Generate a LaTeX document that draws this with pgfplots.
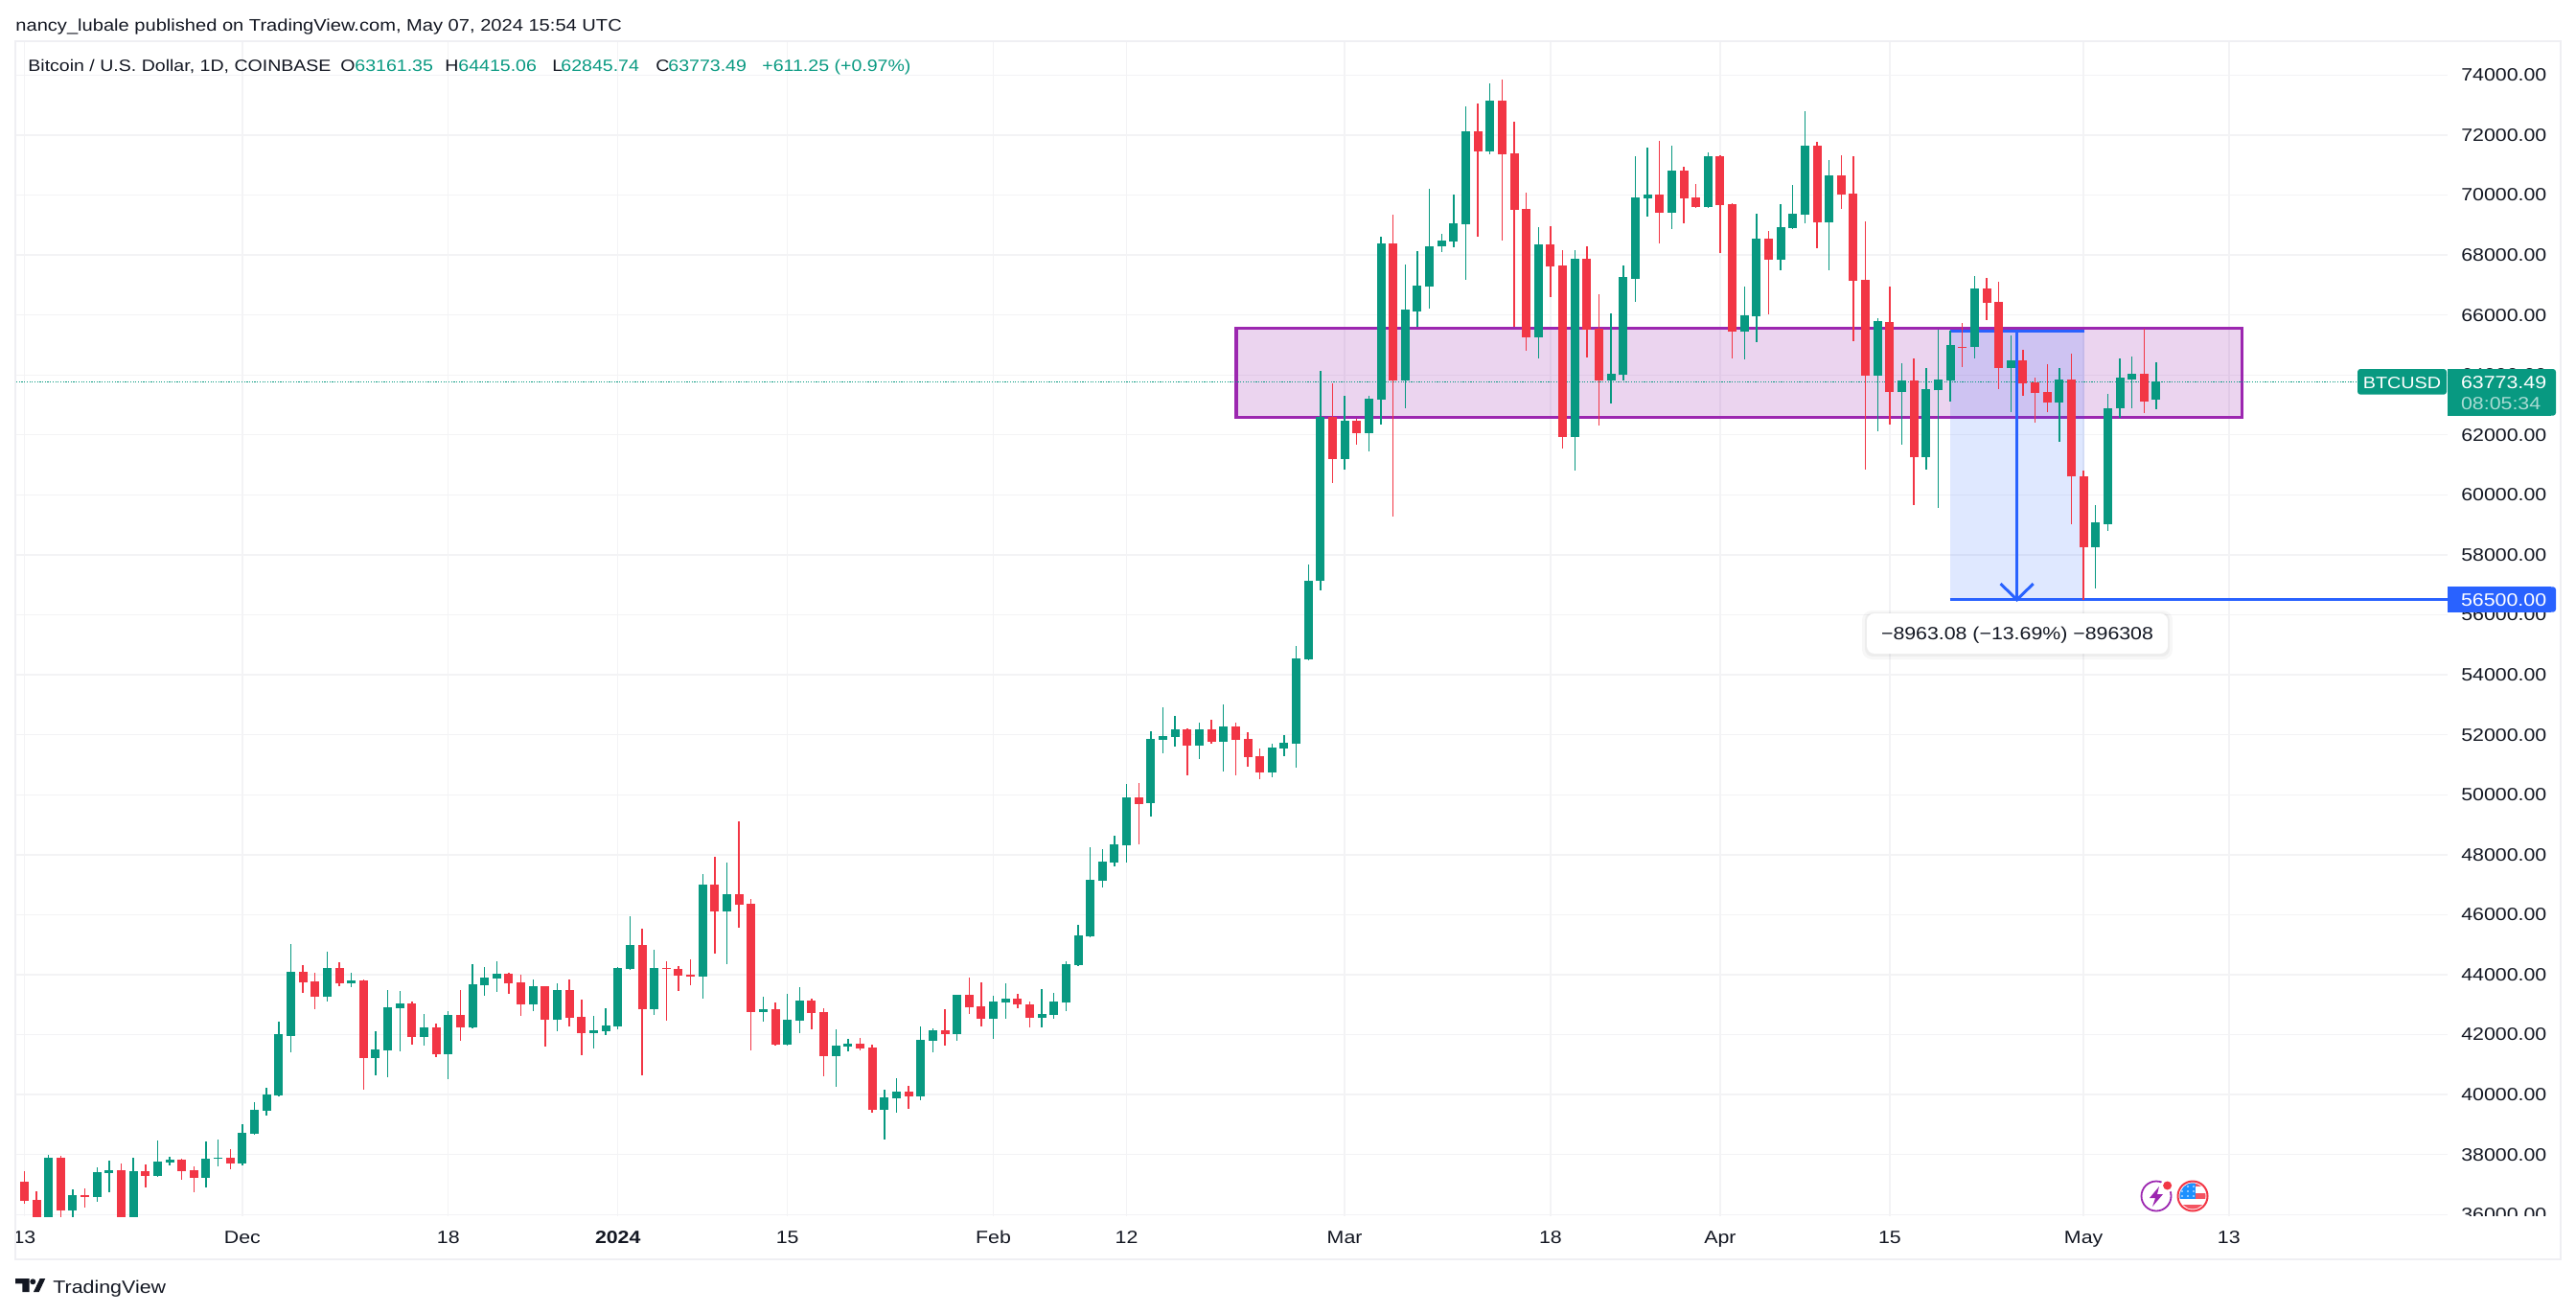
\documentclass[border=0pt]{standalone}
\usepackage{fontspec}
\setmainfont{Liberation Sans}[FakeStretch=1.15]
\usepackage{pgfplots}
\usepackage{pgfplotstable}
\pgfplotsset{compat=1.18}
\definecolor{upc}{HTML}{089981}
\definecolor{downc}{HTML}{F23645}
\definecolor{gridc}{HTML}{F3F3F5}
\definecolor{framec}{HTML}{EFEFF3}
\definecolor{txt}{HTML}{131722}
\definecolor{boxc}{HTML}{9C27B0}
\definecolor{bluec}{HTML}{2962FF}

% d o h l c, day 0 = 13 Nov 2023
\pgfplotstableread{
d o h l c
2 35550 37979 35360 37894
4 36138 36841 35850 36649
6 36585 37575 36426 37415
7 37383 37798 36745 37479
9 35800 37894 35650 37447
11 37287 38468 37250 37766
12 37734 37926 37639 37830
15 37224 38437 36904 37862
16 37862 38500 37607 37894
18 37702 39011 37639 38724
19 38692 39745 38660 39490
20 39458 40224 39298 40001
21 39969 42427 39950 42012
22 41948 45012 41405 44086
25 43256 44757 43097 44214
27 43703 44054 43576 43799
29 41214 42107 40639 41501
30 41469 43480 40575 42905
31 42873 43448 41437 43033
33 41916 42682 41629 42235
35 41341 42778 40511 42650
37 42235 44342 42203 43671
38 43640 44246 43288 43895
39 43863 44438 43416 44023
42 43001 43831 42778 43608
44 42490 43703 42107 43480
47 42044 42618 41533 42139
48 42107 42873 41980 42299
49 42267 44246 42171 44214
50 44182 45938 44170 44980
52 42842 44821 42650 44214
56 43927 47342 43193 46991
58 46097 47725 44342 46672
61 42746 43256 42427 42842
63 41660 43352 41650 42490
64 42458 43576 42044 43129
67 41277 42171 40256 41629
68 41597 41852 41437 41692
71 39490 40160 38500 39905
72 39873 40543 39394 40096
74 39937 42267 39809 41820
75 41788 42203 41405 42139
77 42012 43330 41788 43320
80 42522 43288 41852 43097
81 43065 43703 42522 43193
84 42554 43512 42235 42682
85 42650 43384 42522 43097
86 43065 44438 42778 44342
87 44310 45650 44300 45299
88 45267 48236 45260 47151
89 47119 48172 46895 47757
90 47725 48619 47598 48332
91 48300 50375 47725 49928
93 49723 52117 49276 51862
94 51830 52915 51383 51958
95 51926 52628 51607 52181
97 51639 52405 51192 52181
99 51766 53011 50777 52277
103 50745 51702 50585 51575
104 51543 51990 51287 51734
105 51702 54950 50904 54543
106 54511 57681 54500 57146
107 57135 64134 56805 62609
109 61209 63303 60845 62472
111 62062 63303 61448 63200
112 63189 68617 62347 68401
114 63826 67695 62882 66171
115 66102 68117 65590 66967
116 66933 70210 66205 68299
117 68276 68720 68082 68492
118 68458 70028 68242 69072
119 69038 72953 67161 72122
121 71462 73715 71360 73146
125 65249 68913 64543 68367
128 61926 68173 60811 67889
131 63826 66068 63041 64031
132 63997 67661 63800 67252
133 67218 71303 66421 69926
134 69892 71587 69289 70028
136 69414 71644 68879 70825
139 69587 71408 69580 71290
142 65434 66937 64512 65979
143 65943 69362 65079 68534
145 67836 69693 67481 68924
146 68889 70332 68860 69362
147 69338 72793 69042 71633
149 69078 71160 67481 70651
153 63991 65884 62134 65789
155 63423 64405 61661 63802
157 61247 64216 60832 63518
158 63482 65505 59578 63837
159 63802 65470 63127 64985
161 64926 67292 64535 66878
164 64216 65304 62749 64476
168 63068 64216 61755 63837
171 58242 59649 56893 59070
172 59034 63352 58810 62903
173 62879 64535 62560 63896
174 63861 64630 62903 64027
176 63161.35 64415.06 62845.74 63773.49
}\upT

\pgfplotstableread{
d o h l c
-1 37160 37300 36950 37064
0 37096 37447 36372 36458
1 36489 36777 35100 35550
3 37894 37958 35700 36138
5 36649 36872 36234 36585
8 37479 37702 35650 35800
10 37447 37670 36904 37287
13 37830 37862 37160 37447
14 37479 37607 36745 37224
17 37894 38181 37511 37702
23 44086 44310 43384 43735
24 43767 44054 42842 43256
26 44214 44406 43608 43703
28 43799 43831 40160 41214
32 43033 43097 41660 41916
34 42235 42363 41246 41341
36 42650 43480 41788 42235
40 44023 44054 43352 43703
41 43735 43991 42618 43001
43 43608 43620 41597 42490
45 43480 43831 42267 42554
46 42586 43161 41309 42044
51 44980 45523 40639 42842
53 44214 44438 42458 44182
54 44182 44278 43448 43959
55 43991 44501 43640 43927
57 46991 47917 44693 46097
59 46672 49098 45555 46321
60 46353 46512 41469 42746
62 42842 43065 41650 41660
65 43129 43193 42171 42714
66 42746 42873 40607 41277
69 41692 41884 41469 41533
70 41565 41660 39394 39490
73 40096 40288 39522 39937
76 42139 42842 41629 42012
78 43320 43895 42682 42905
79 42937 43735 42267 42522
82 43193 43352 42873 43001
83 43001 43097 42235 42554
92 49928 50407 48332 49704
96 52181 52213 50649 51639
98 52181 52500 51702 51766
100 52277 52405 50649 51830
101 51862 52085 50936 51256
102 51287 51543 50521 50745
108 62609 63712 60401 61209
110 62472 62540 61675 62062
113 68401 69357 59286 63826
120 72122 73055 68617 71462
122 73146 73852 68492 71360
123 71394 72441 65590 69516
124 69550 70085 64794 65249
126 68367 68970 66580 67604
127 67639 68173 61550 61926
129 67889 68276 64577 65499
130 65533 66683 62313 63826
135 70028 71804 68401 69414
137 70805 70935 69042 69882
138 69906 70356 69560 69587
140 71290 71314 68061 69658
141 69693 69717 64535 65434
144 68534 68794 66014 67836
148 71633 71763 68214 69078
150 70651 71314 69528 70013
151 70036 71290 65115 67126
152 67162 69113 60832 63991
154 65754 66937 62335 63423
156 63802 64535 59649 61247
160 64949 65718 64251 64926
162 66878 67221 65813 66393
163 66428 67102 63542 64216
165 64476 64831 63293 63707
166 63743 63896 62394 63388
167 63423 64346 62749 63068
169 63837 64725 59034 60608
170 60631 60797 56503 58242
175 64027 65529 62713 63127
}\downT

\begin{document}
\begin{tikzpicture}
\useasboundingbox (0,0) rectangle (1344pt,-685pt);
\begin{axis}[
  at={(8.5pt,-634.5pt)}, anchor=south west,
  scale only axis, width=1268.5pt, height=612.5pt,
  xmin=-0.665, xmax=200.05, ymin=35946, ymax=75097,
  axis line style={draw=none},
  major tick length=0pt,
  grid=major, grid style={draw=gridc, line width=0.7pt},
  xtick={0,18,35,49,63,80,91,109,126,140,154,170,182},
  xticklabels={13,Dec,18,\textbf{2024},15,Feb,12,Mar,18,Apr,15,May,13},
  ytick={36000,38000,...,74000},
  yticklabel pos=right,
  tick label style={font=\fontsize{9.28}{11}\selectfont, text=txt, inner sep=0pt},
  y tick label style={xshift=7pt, yshift=-1pt, anchor=west},
  x tick label style={yshift=-6.5pt, anchor=north},
  typeset ticklabels with strut,
  y tick label style={/pgf/number format/.cd, fixed, fixed zerofill, precision=2, 1000 sep={}, assume math mode=true},
  scaled y ticks=false,
  wick/.style={draw=none, mark=none, forget plot,
    error bars/.cd, y dir=both, y explicit, error mark=none,
    error bar style={draw=#1, solid, line width=0.7pt}},
  body/.style={draw=none, mark=none, forget plot,
    error bars/.cd, y dir=plus, y explicit, error mark=none,
    error bar style={draw=#1, solid, line width=4.5pt}},
]
% support box
\addplot[draw=boxc, line width=1.6pt, fill=boxc, fill opacity=0.2, draw opacity=1, forget plot]
  coordinates {(100.05,62584) (183.08,62584) (183.08,65556) (100.05,65556)} --cycle;
% measure zone
\addplot[draw=none, fill=bluec, fill opacity=0.15, forget plot]
  coordinates {(158.97,56500) (170.1,56500) (170.1,65463) (158.97,65463)} --cycle;
\addplot[bluec, line width=1.5pt, forget plot] coordinates {(158.97,65463) (170.1,65463)};
\addplot[bluec, line width=1.5pt, forget plot] coordinates {(158.97,56500) (200.05,56500)};
% last price
\addplot[upc, line width=0.5pt, dash pattern=on 0.6pt off 0.75pt, forget plot]
  coordinates {(-0.665,63773.49) (192.6,63773.49)};
% candles
\addplot[wick=upc] table[x=d, y=o, y error plus expr=\thisrow{h}-\thisrow{o}, y error minus expr=\thisrow{o}-\thisrow{l}] {\upT};
\addplot[wick=downc] table[x=d, y=o, y error plus expr=\thisrow{h}-\thisrow{o}, y error minus expr=\thisrow{o}-\thisrow{l}] {\downT};
\addplot[body=upc] table[x=d, y=o, y error plus expr=\thisrow{c}-\thisrow{o}] {\upT};
\addplot[body=downc] table[x=d, y=c, y error plus expr=\thisrow{o}-\thisrow{c}] {\downT};
% arrow
\addplot[bluec, line width=1.5pt, forget plot] coordinates {(164.5,65463) (164.5,56500)};
\addplot[bluec, line width=1.5pt, forget plot] coordinates {(163.15,57040) (164.5,56500) (165.85,57040)};
\end{axis}

\begin{scope}[x=0.5pt, y=-0.5pt]
% clipped bottom tick label
\fill[white] (2556,1269) rectangle (2670,1292);
% frame
\draw[framec, line width=1pt] (16,43) rectangle (2672,1314);
% header
\node[anchor=base west, inner sep=0pt, text=txt, font=\fontsize{8.74}{10}\selectfont] at (16,33)
  {nancy\_lubale published on TradingView.com, May 07, 2024 15:54 UTC};
\begin{scope}[every node/.style={anchor=base west, inner sep=0pt, font=\fontsize{8.5}{10}\selectfont}]
\node[text=txt] at (29,75) {Bitcoin / U.S. Dollar, 1D, COINBASE};
\node[text=txt] at (355,75) {O};
\node[text=upc] at (370,75) {63161.35};
\node[text=txt] at (464,75) {H};
\node[text=upc] at (478,75) {64415.06};
\node[text=txt] at (576,75) {L};
\node[text=upc] at (585,75) {62845.74};
\node[text=txt] at (684,75) {C};
\node[text=upc] at (697,75) {63773.49};
\node[text=upc] at (795,75) {+611.25 (+0.97\%)};
\end{scope}
% price labels
\fill[upc, rounded corners=1.5pt] (2460,385) rectangle (2553,411.7);
\fill[upc] (2554,385) rectangle (2662,433.7);
\fill[upc, rounded corners=1.5pt] (2655,385) rectangle (2667,433.7);
\node[anchor=base, inner sep=0pt, text=white, font=\fontsize{8.6}{11}\selectfont] at (2506.5,405) {BTCUSD};
\node[anchor=base west, inner sep=0pt, text=white, font=\fontsize{9.28}{11}\selectfont] at (2567.7,405) {63773.49};
\node[anchor=base west, inner sep=0pt, text=white!65!upc, font=\fontsize{9.28}{11}\selectfont] at (2567.7,427) {08:05:34};
\fill[bluec] (2554,612.3) rectangle (2662,638.7);
\fill[bluec, rounded corners=1.5pt] (2655,612.3) rectangle (2667,638.7);
\node[anchor=base west, inner sep=0pt, text=white, font=\fontsize{9.28}{11}\selectfont] at (2567.7,632) {56500.00};
% measure tooltip
\fill[black, opacity=0.03, rounded corners=5pt] (1943,637) rectangle (2267,688);
\fill[black, opacity=0.04, rounded corners=4pt] (1946,639) rectangle (2264,685);
\fill[white, rounded corners=4pt] (1948,640) rectangle (2262,682);
\node[anchor=base, inner sep=0pt, text=txt, font=\fontsize{9.27}{10}\selectfont] at (2105,667.5)
  {−8963.08 (−13.69\%) −896308};
% event icons
\draw[boxc, line width=0.9pt] (2250,1248) circle (15.5);
\fill[white] (2261.6,1237) circle (7);
\fill[downc] (2261.6,1237) circle (4.5);
\fill[boxc] (2253,1238) -- (2243,1250) -- (2249,1250) -- (2246,1259) -- (2257,1246) -- (2251,1246) -- cycle;
\begin{scope}
\clip (2288,1248) circle (13.5);
\fill[white] (2272,1232) rectangle (2304,1264);
\fill[downc!85!white] (2272,1233) rectangle (2304,1238);
\fill[downc!85!white] (2272,1245) rectangle (2304,1251);
\fill[downc!85!white] (2272,1257) rectangle (2304,1264);
\fill[bluec!70!cyan] (2272,1234) rectangle (2291,1251);
\foreach \a in {2278,2284,2290} \foreach \b in {1238,1243,1248} \fill[white] (\a-1,\b) circle (0.9);
\end{scope}
\draw[downc, line width=1pt] (2288,1248) circle (15.5);
% footer
\node[anchor=base west, inner sep=0pt, text=txt, font=\fontsize{9.3}{12}\selectfont] at (55,1349) {TradingView};
\fill[txt] (16,1334) -- (30.7,1334) -- (30.7,1348) -- (23.3,1348) -- (23.3,1339.3) -- (16,1339.3) -- cycle;
\fill[txt] (34.3,1337.3) circle (3);
\fill[txt] (41.7,1334) -- (47.3,1334) -- (40.7,1348) -- (35,1348) -- cycle;
\end{scope}
\end{tikzpicture}
\end{document}
